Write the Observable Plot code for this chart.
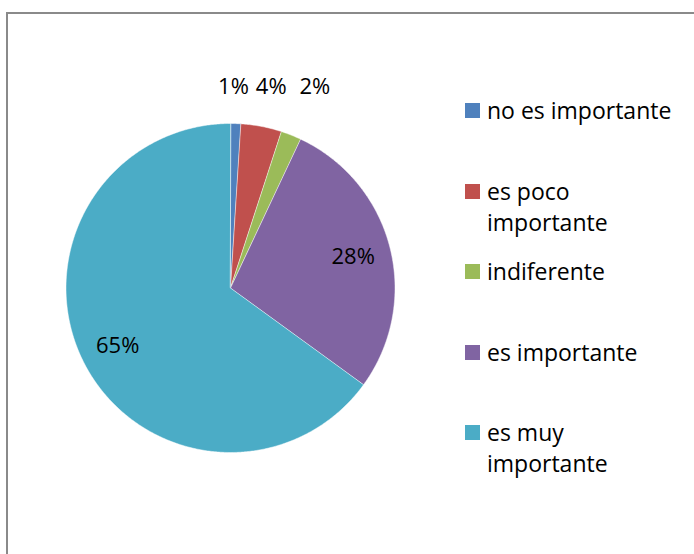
<!DOCTYPE html>
<html>
<head>
<meta charset="utf-8">
<script src="https://cdn.jsdelivr.net/npm/d3@7"></script>
<script src="https://cdn.jsdelivr.net/npm/@observablehq/plot@0.6"></script>
<style>
  html, body { margin: 0; padding: 0; background: #fff; overflow: hidden; }
  #wrap { position: relative; width: 694px; height: 554px; overflow: hidden; font-family: "Open Sans", sans-serif; }
  #frame { position: absolute; left: 6px; top: 12px; width: 900px; height: 900px; border: 2px solid #8a8a8a; box-sizing: border-box; }
  #chart { position: absolute; left: 0; top: 0; }
  #legend { position: absolute; left: 465px; top: 95px; width: 220px; }
  .item { height: 80.6px; display: flex; align-items: flex-start; }
  .sw { width: 15px; height: 15px; flex: none; margin-top: 8px; margin-right: 7px; }
  .lab { font-size: 23px; line-height: 31px; color: #000; width: 195px; }
</style>
</head>
<body>
<div id="wrap">
  <div id="frame"></div>
  <div id="chart"></div>
  <div id="legend"></div>
</div>
<script>
const categories = ["no es importante", "es poco importante", "indiferente", "es importante", "es muy importante"];
const percentages = [1, 4, 2, 28, 65];
const colors = ["#4F81BD", "#C0504D", "#9BBB59", "#8064A2", "#4BACC6"];

const arcs = d3.pie().sort(null).value(d => d)(percentages);

function ring(a0, a1) {
  const pts = [[0, 0]];
  const n = Math.max(2, Math.ceil((a1 - a0) / (Math.PI / 360)));
  for (let i = 0; i <= n; i++) {
    const a = a0 + (a1 - a0) * i / n;
    pts.push([Math.sin(a), -Math.cos(a)]);
  }
  pts.push([0, 0]);
  return pts;
}

const slices = arcs.map((a, i) => ({
  type: "Feature",
  properties: {category: categories[i], value: percentages[i]},
  geometry: {type: "Polygon", coordinates: [ring(a.startAngle, a.endAngle)]}
}));

const labels = arcs.map((a, i) => {
  const mid = (a.startAngle + a.endAngle) / 2;
  const outside = percentages[i] < 10;
  return {
    text: percentages[i] + "%",
    x: outside ? 1.47 * Math.sin(mid) - 0.028 : 0.77 * Math.sin(mid),
    y: outside ? -1.22 : -0.77 * Math.cos(mid)
  };
});

const bounds = {type: "Polygon", coordinates: [[[-1, -1], [1, -1], [1, 1], [-1, 1], [-1, -1]]]};

const chart = Plot.plot({
  width: 694,
  height: 554,
  marginLeft: 65.5,
  marginRight: 299.5,
  marginTop: 123,
  marginBottom: 102,
  projection: {type: "identity", domain: bounds, clip: false},
  color: {domain: categories, range: colors},
  style: {fontFamily: "Open Sans", fontSize: "22px", background: "transparent", overflow: "visible"},
  marks: [
    Plot.geo(slices, {fill: d => d.properties.category, stroke: "white", strokeWidth: 0.8, strokeOpacity: 0.6}),
    Plot.text(labels, {x: "x", y: "y", text: "text", fill: "black", fontSize: 22, clip: false})
  ]
});
document.getElementById("chart").appendChild(chart);

const legend = document.getElementById("legend");
categories.forEach((c, i) => {
  const item = document.createElement("div");
  item.className = "item";
  const sw = document.createElement("div");
  sw.className = "sw";
  sw.style.background = chart.scale("color").apply(c);
  const lab = document.createElement("div");
  lab.className = "lab";
  lab.textContent = c;
  item.appendChild(sw);
  item.appendChild(lab);
  legend.appendChild(item);
});
</script>
</body>
</html>
